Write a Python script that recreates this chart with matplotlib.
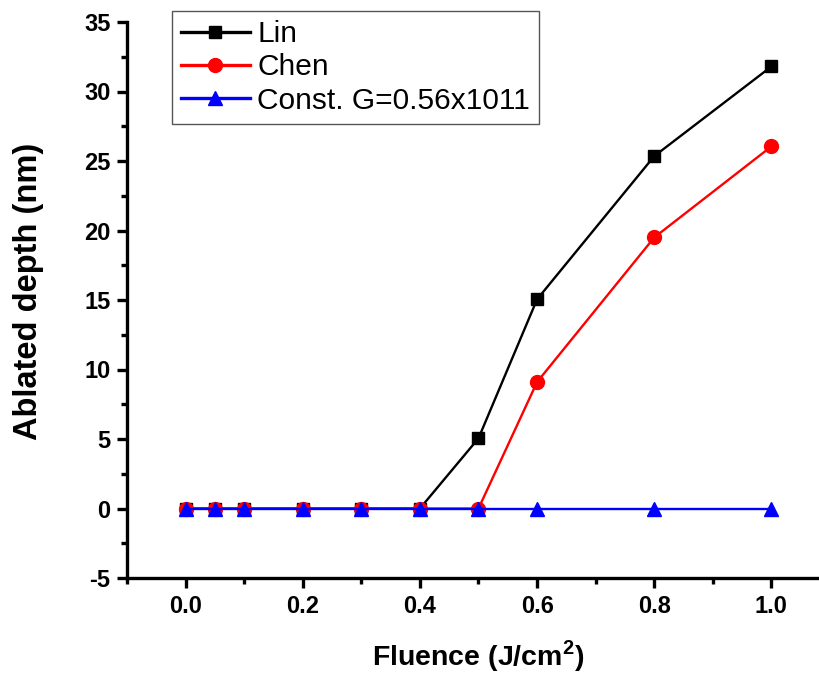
import matplotlib.pyplot as plt
from matplotlib.ticker import MultipleLocator

plt.rcParams['font.family'] = ['Liberation Sans', 'DejaVu Sans']
plt.rcParams['mathtext.fontset'] = 'custom'
plt.rcParams['mathtext.bf'] = 'Liberation Sans:bold'

# data
fluence = [0.0, 0.05, 0.1, 0.2, 0.3, 0.4, 0.5, 0.6, 0.8, 1.0]
depth_lin = [0, 0, 0, 0, 0, 0, 5.05, 15.05, 25.35, 31.8]
depth_chen = [0, 0, 0, 0, 0, 0, 0, 9.1, 19.5, 26.05]
depth_const = [0, 0, 0, 0, 0, 0, 0, 0, 0, 0]

fig = plt.figure(figsize=(8.2, 6.74), dpi=100)
ax = fig.add_axes([127/820, 96/674, (830-127)/820, (578-22)/674])

ax.plot(fluence, depth_lin, color='black', marker='s', markersize=9, linewidth=1.7, label='Lin')
ax.plot(fluence, depth_chen, color='red', marker='o', markersize=10, linewidth=1.7, label='Chen')
ax.plot(fluence, depth_const, color='blue', marker='^', markersize=10, linewidth=1.7,
        label='Const. G=0.56x1011')

ax.set_xlim(-0.1, 1.1)
ax.set_ylim(-5, 35)
ax.xaxis.set_major_locator(MultipleLocator(0.2))
ax.xaxis.set_minor_locator(MultipleLocator(0.1))
ax.yaxis.set_major_locator(MultipleLocator(5))
ax.yaxis.set_minor_locator(MultipleLocator(2.5))
ax.xaxis.set_major_formatter(plt.FuncFormatter(lambda v, p: f'{v:.1f}'))
ax.yaxis.set_major_formatter(plt.FuncFormatter(lambda v, p: f'{v:.0f}'))

for side in ['top', 'right']:
    ax.spines[side].set_visible(False)
for side in ['left', 'bottom']:
    ax.spines[side].set_linewidth(2.4)

ax.tick_params(which='major', direction='out', length=7, width=2.4, labelsize=17, pad=5)
ax.tick_params(which='minor', direction='out', length=4, width=2.4)
for lbl in ax.get_xticklabels() + ax.get_yticklabels():
    lbl.set_fontweight('bold')

ax.set_xlabel('Fluence (J/cm$^{\\mathbf{2}}$)', fontsize=20.5, fontweight='bold')
ax.set_ylabel('Ablated depth (nm)', fontsize=23.5, fontweight='bold')
ax.xaxis.set_label_coords(0.5, -0.108)
ax.yaxis.set_label_coords(-0.118, 0.515)

leg = ax.legend(loc='upper left', bbox_to_anchor=(172/820, 1 - 11/674),
                bbox_transform=fig.transFigure, borderaxespad=0, fontsize=21.5,
                fancybox=False, framealpha=1, edgecolor='#555555',
                handlelength=2.3, handletextpad=0.25, labelspacing=0.18,
                borderpad=0.3)
leg.get_frame().set_linewidth(1.0)
for line in leg.get_lines():
    line.set_linewidth(2.4)

fig.savefig('out.png', dpi=100)
